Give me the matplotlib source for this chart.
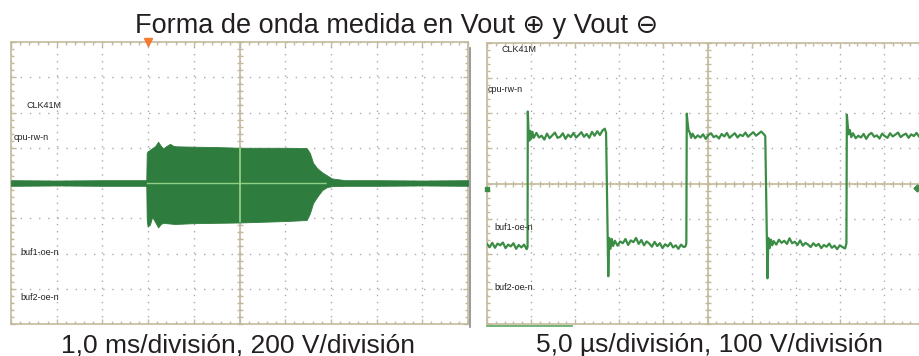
import matplotlib
matplotlib.use('Agg')
import matplotlib.pyplot as plt
from matplotlib.ticker import MultipleLocator
from matplotlib.lines import Line2D

plt.rcParams['font.family'] = ['Liberation Sans', 'DejaVu Sans']

# ---------------- data (in scope divisions) ----------------
title = 'Forma de onda medida en Vout \u2295 y Vout \u2296'
caption_left = '1,0 ms/división, 200 V/división'
caption_right = '5,0 µs/división, 100 V/división'
channel_labels = ['CLK41M', 'cpu-rw-n', 'buf1-oe-n', 'buf2-oe-n']
left_label_x = [-4.65, -4.95, -4.80, -4.80]
left_label_y = [2.21, 1.28, -1.96, -3.26]
right_label_x = [-4.67, -4.99, -4.83, -4.83]
right_label_y = [3.81, 2.67, -1.25, -2.95]

# Left trace: envelope of the burst (time in div, voltage in div)
left_t = [-5.00, -4.00, -3.00, -2.04, -2.03, -2.01, -1.96, -1.91, -1.85, -1.78,
          -1.72, -1.67, -1.60, -1.52, -1.44, -1.37, -1.00, -0.50, 0.00, 0.50,
          1.00, 1.47, 1.54, 1.61, 1.70, 1.81, 1.91, 2.02, 2.31, 3.00, 4.00, 5.00]
left_upper = [0.08, 0.07, 0.08, 0.08, 0.85, 0.90, 0.94, 0.99, 1.04, 1.17,
              1.05, 0.98, 1.05, 1.11, 1.05, 1.04, 1.03, 1.02, 1.00, 1.00,
              1.00, 0.99, 0.85, 0.57, 0.42, 0.30, 0.22, 0.13, 0.08, 0.08, 0.07, 0.08]
left_lower = [-0.08, -0.07, -0.08, -0.08, -1.05, -1.24, -1.18, -0.96, -1.10, -1.26,
              -1.16, -1.13, -1.14, -1.15, -1.16, -1.16, -1.14, -1.13, -1.12, -1.10,
              -1.08, -1.05, -0.86, -0.57, -0.39, -0.20, -0.12, -0.09, -0.08, -0.08, -0.07, -0.08]
trigger_t = -2.0

# Right trace: square wave with ringing and noise
right_t = [
    -5.00, -4.94, -4.88, -4.82, -4.76, -4.70, -4.64, -4.58, -4.52, -4.46, -4.40, -4.34, -4.28, -4.22, -4.16, -4.10,
    -4.08, -4.075, -4.06, -4.04, -4.02, -4.00, -3.97,
    -3.94, -3.88, -3.82, -3.76, -3.70, -3.64, -3.58, -3.52, -3.46, -3.40, -3.34, -3.28, -3.22, -3.16, -3.10, -3.04,
    -2.98, -2.92, -2.86, -2.80, -2.74, -2.68, -2.62, -2.56, -2.50, -2.44, -2.38, -2.33,
    -2.30, -2.27, -2.25, -2.23, -2.20, -2.17, -2.14,
    -2.10, -2.04, -1.98, -1.92, -1.86, -1.80, -1.74, -1.68, -1.62, -1.56, -1.50, -1.44, -1.38, -1.32, -1.26, -1.20,
    -1.14, -1.08, -1.02, -0.96, -0.90, -0.84, -0.78, -0.72, -0.66, -0.60, -0.54, -0.50,
    -0.48, -0.47, -0.45, -0.43, -0.40, -0.37,
    -0.34, -0.28, -0.22, -0.16, -0.10, -0.04, 0.02, 0.08, 0.14, 0.20, 0.26, 0.32, 0.38, 0.44, 0.50, 0.56,
    0.62, 0.68, 0.74, 0.80, 0.86, 0.92, 0.98, 1.04, 1.10, 1.16, 1.22, 1.28,
    1.31, 1.34, 1.36, 1.38, 1.41, 1.44, 1.47,
    1.50, 1.56, 1.62, 1.68, 1.74, 1.80, 1.86, 1.92, 1.98, 2.04, 2.10, 2.16, 2.22, 2.28, 2.34, 2.40,
    2.46, 2.52, 2.58, 2.64, 2.70, 2.76, 2.82, 2.88, 2.94, 3.00, 3.06, 3.12,
    3.15, 3.16, 3.18, 3.20, 3.23, 3.26,
    3.30, 3.36, 3.42, 3.48, 3.54, 3.60, 3.66, 3.72, 3.78, 3.84, 3.90, 3.96, 4.02, 4.08, 4.14, 4.20,
    4.26, 4.32, 4.38, 4.44, 4.50, 4.56, 4.62, 4.68, 4.74, 4.80, 4.86]
right_v = [
    -1.72, -1.81, -1.69, -1.83, -1.71, -1.76, -1.68, -1.84, -1.74, -1.79, -1.70, -1.86, -1.75, -1.82, -1.74, -1.87,
    -1.80, 2.05, 1.55, 1.22, 1.50, 1.28, 1.47,
    1.30, 1.44, 1.31, 1.36, 1.25, 1.42, 1.29, 1.37, 1.45, 1.30, 1.33, 1.43, 1.27, 1.39, 1.32, 1.44,
    1.31, 1.38, 1.46, 1.33, 1.41, 1.30, 1.47, 1.36, 1.49, 1.38, 1.51, 1.56,
    1.45, -1.00, -2.64, -1.55, -1.86, -1.58, -1.78,
    -1.63, -1.77, -1.65, -1.70, -1.58, -1.75, -1.62, -1.67, -1.55, -1.72, -1.61, -1.76, -1.65, -1.71, -1.80, -1.66,
    -1.78, -1.70, -1.84, -1.73, -1.79, -1.69, -1.82, -1.76, -1.86, -1.74, -1.81, -1.79,
    -1.70, 1.99, 1.72, 1.52, 1.44, 1.30,
    1.42, 1.29, 1.37, 1.31, 1.40, 1.27, 1.38, 1.43, 1.32, 1.36, 1.28, 1.41, 1.34, 1.44, 1.30, 1.37,
    1.43, 1.31, 1.39, 1.35, 1.45, 1.33, 1.40, 1.46, 1.36, 1.42, 1.48, 1.40,
    1.35, -1.00, -2.70, -1.55, -1.84, -1.60, -1.76,
    -1.64, -1.74, -1.60, -1.69, -1.63, -1.72, -1.56, -1.70, -1.66, -1.75, -1.62, -1.77, -1.69, -1.74, -1.81, -1.70,
    -1.78, -1.72, -1.84, -1.75, -1.80, -1.71, -1.83, -1.77, -1.87, -1.76, -1.81, -1.85,
    -1.70, 1.96, 1.66, 1.40, 1.52, 1.32,
    1.43, 1.29, 1.36, 1.31, 1.41, 1.27, 1.39, 1.44, 1.33, 1.37, 1.28, 1.42, 1.35, 1.30, 1.43, 1.34,
    1.39, 1.45, 1.32, 1.38, 1.42, 1.30, 1.40, 1.35, 1.44, 1.33, 1.40]
right_ground_level = -0.17
right_edge_marker = (4.74, -0.14)

# ---------------- styling ----------------
W, H = 919, 356
fig = plt.figure(figsize=(W / 100, H / 100), dpi=100)
FRAME = '#c3ba9c'
GRIDC = '#a9a9a9'
GREEN_FILL = '#2f7d3e'
GREEN_LINE = '#3b8d45'
TEXT = '#231f20'


def px_rect(x0, y0, x1, y1):
    return [x0 / W, 1 - y1 / H, (x1 - x0) / W, (y1 - y0) / H]


def scope(rect):
    # background: frame, ticks, dotted grid
    axg = fig.add_axes(rect, zorder=0)
    axg.set_xlim(-5, 5)
    axg.set_ylim(-4, 4)
    for s in axg.spines.values():
        s.set_color(FRAME)
        s.set_linewidth(1.2)
    axg.xaxis.set_major_locator(MultipleLocator(1))
    axg.yaxis.set_major_locator(MultipleLocator(1))
    axg.xaxis.set_minor_locator(MultipleLocator(0.2))
    axg.yaxis.set_minor_locator(MultipleLocator(0.2))
    axg.tick_params(which='both', direction='in', top=True, right=True,
                    color=FRAME, width=1.0, labelbottom=False, labelleft=False)
    axg.tick_params(which='major', length=3.5)
    axg.tick_params(which='minor', length=2.2)
    axg.xaxis.grid(True, which='major', color=GRIDC, linewidth=1.0,
                   linestyle=(0, (1.0, 4.1)))
    axg.yaxis.grid(True, which='major', color=GRIDC, linewidth=1.0,
                   linestyle=(0, (1.0, 5.6)))
    # centre cross with ticks
    axc = fig.add_axes(rect, zorder=1)
    axc.set_xlim(-5, 5)
    axc.set_ylim(-4, 4)
    axc.patch.set_visible(False)
    axc.spines['top'].set_visible(False)
    axc.spines['right'].set_visible(False)
    axc.spines['left'].set_position(('data', 0))
    axc.spines['bottom'].set_position(('data', 0))
    for s in ('left', 'bottom'):
        axc.spines[s].set_color(FRAME)
        axc.spines[s].set_linewidth(1.2)
    axc.xaxis.set_major_locator(MultipleLocator(0.2))
    axc.yaxis.set_major_locator(MultipleLocator(0.2))
    axc.tick_params(which='both', direction='inout', length=5, width=1.0,
                    color=FRAME, labelbottom=False, labelleft=False)
    # data layer
    ax = fig.add_axes(rect, zorder=2)
    ax.set_xlim(-5, 5)
    ax.set_ylim(-4, 4)
    ax.axis('off')
    return ax


# ---------------- left scope ----------------
axL = scope(px_rect(11, 42, 468, 324))
fb = axL.fill_between(left_t, left_lower, left_upper, color=GREEN_FILL,
                      linewidth=0.6, edgecolor=GREEN_FILL)
# clip region for the light centre cross: only the burst itself
burst_mask = [u > 0.2 for u in left_upper]
burst = axL.fill_between(left_t, left_lower, left_upper, where=burst_mask,
                         visible=False)
clip = burst.get_paths()[0]
hl = axL.axhline(0, color='#8fcf84', linewidth=1.0)
hl.set_clip_path(clip, axL.transData)
vl = axL.axvline(0, color='#9ad58c', linewidth=1.2)
vl.set_clip_path(clip, axL.transData)
axL.plot([trigger_t], [4.0], marker='v', color='#f47b30', markersize=6,
         clip_on=False, linestyle='none')
for lab, x, y in zip(channel_labels, left_label_x, left_label_y):
    axL.text(x, y, lab, fontsize=6.5, color=TEXT, ha='left', va='center')

# ---------------- right scope ----------------
axR = scope(px_rect(487, 43, 928, 324))
axR.plot(right_t, right_v, color=GREEN_LINE, linewidth=1.6)
axR.plot([-5.0], [right_ground_level], marker='s', color=GREEN_LINE,
         markersize=3.5, clip_on=False, linestyle='none')
axR.plot([right_edge_marker[0]], [right_edge_marker[1]], marker='D',
         color=GREEN_LINE, markersize=3.5, clip_on=False, linestyle='none')
for lab, x, y in zip(channel_labels, right_label_x, right_label_y):
    axR.text(x, y, lab, fontsize=6.5, color=TEXT, ha='left', va='center')

# decorations
fig.add_artist(Line2D([470.5 / W, 470.5 / W], [1 - 48 / H, 1 - 327 / H],
                      color='#8a8a8a', linewidth=1.2))
fig.add_artist(Line2D([487 / W, 572 / W], [1 - 326 / H, 1 - 326 / H],
                      color='#5aa860', linewidth=1.2))

# texts
fig.text(397 / W, 1 - 33 / H, title, ha='center', va='baseline',
         fontsize=19.5, color=TEXT)
fig.text(237.5 / W, 1 - 352 / H, caption_left, ha='center', va='baseline',
         fontsize=19, color=TEXT)
fig.text(709 / W, 1 - 352 / H, caption_right, ha='center', va='baseline',
         fontsize=19, color=TEXT)

fig.savefig('out.png', dpi=100, facecolor='white')
